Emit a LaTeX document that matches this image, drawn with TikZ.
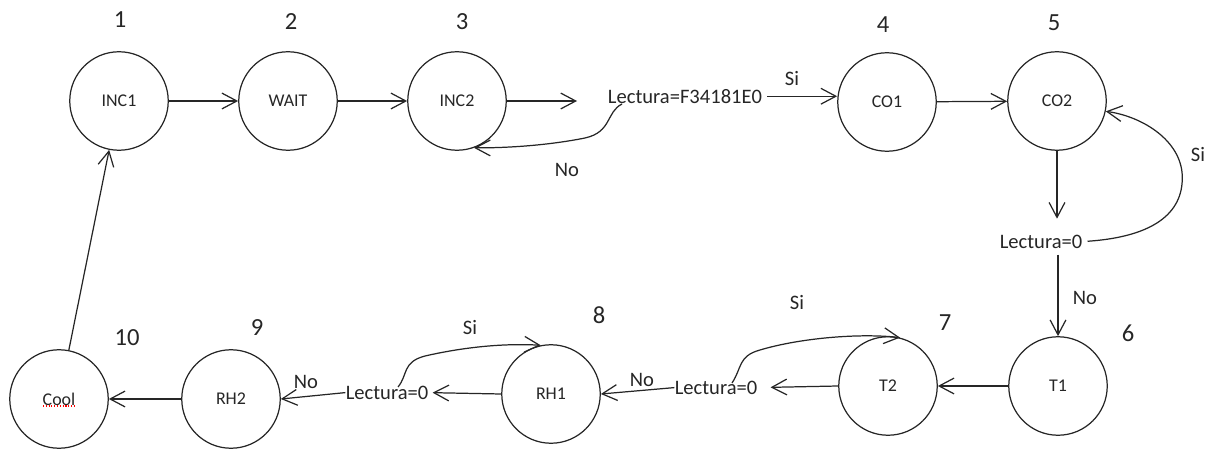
\documentclass[tikz,border=0pt]{standalone}
\usepackage{fontspec}
\setmainfont{Carlito}
\usetikzlibrary{arrows.meta}
\definecolor{ink}{HTML}{262626}
\begin{document}
\begin{tikzpicture}[x=0.02cm,y=-0.02cm,
  state/.style={circle,draw=ink,line width=0.7pt,minimum size=1.97cm,inner sep=0pt,
    font=\fontsize{10.2}{12}\selectfont,text=ink},
  num/.style={font=\fontsize{14}{16}\selectfont,text=ink,inner sep=0pt},
  lbl/.style={font=\fontsize{11.7}{14}\selectfont,text=ink,inner sep=0pt},
  cond/.style={lbl,anchor=mid},
  link/.style={draw=ink,line width=0.7pt,-{Straight Barb[length=8.5pt,width=9pt]}},
  plain/.style={draw=ink,line width=0.7pt}]
\useasboundingbox (0,0) rectangle (1213,452);

% states
\node[state] (INC1) at (119,101) {INC1};
\node[state] (WAIT) at (288,101) {WAIT};
\node[state] (INC2) at (457,101) {INC2};
\node[state] (CO1)  at (887,102) {CO1};
\node[state] (CO2)  at (1057,101) {CO2};
\node[state] (T1)   at (1058,386) {T1};
\node[state] (T2)   at (888,386) {T2};
\node[state] (RH1)  at (551,394) {RH1};
\node[state] (RH2)  at (231,399) {RH2};
\node[state] (Cool) at (59,399) {Cool};

% state numbers
\node[num] (n1)  at (120,20)  {1};
\node[num] (n2)  at (291,22)  {2};
\node[num] (n3)  at (462,22)  {3};
\node[num] (n4)  at (883,25)  {4};
\node[num] (n5)  at (1054,23) {5};
\node[num] (n6)  at (1128,333) {6};
\node[num] (n7)  at (945,323) {7};
\node[num] (n8)  at (599,315) {8};
\node[num] (n9)  at (257,328) {9};
\node[num] (n10) at (127,338) {10};

% conditions
\node[cond] (lec1) at (685,99)  {Lectura=F34181E0};
\node[cond] (lec2) at (1041,244) {Lectura=0};
\node[cond] (lec3) at (716,390) {Lectura=0};
\node[cond] (lec4) at (387,395) {Lectura=0};

% branch labels
\node[lbl] (si1) at (792,79)   {Si};
\node[lbl] (no1) at (567,170)  {No};
\node[lbl] (si2) at (1198,155) {Si};
\node[lbl] (no2) at (1085,298) {No};
\node[lbl] (si3) at (797,302)  {Si};
\node[lbl] (no3) at (642,380)  {No};
\node[lbl] (si4) at (470,327)  {Si};
\node[lbl] (no4) at (306,382)  {No};

% spell-check underline
\draw[red,densely dotted,line width=0.6pt] ([shift={(-16,7)}]Cool.center) -- ([shift={(17,7)}]Cool.center);

% free end of the INC2 exit arrow
\coordinate (inc2out) at (577,101);
\coordinate (nofrom) at (622,104);
\coordinate (si3from) at (732,383);
\coordinate (si4from) at (398,387);

% top row
\draw[link] (INC1) -- (WAIT);
\draw[link] (WAIT) -- (INC2);
\draw[link] (INC2.east) -- (inc2out);
\draw[link,shorten <=2.8pt] (lec1.east) -- (lec1.east -| CO1.west);
\draw[link] (nofrom) .. controls (606,112) and (612,132) .. (585,138)
   .. controls (550,145) and (510,148) .. (INC2.-70);
\draw[link] (CO1) -- (CO2);

% CO2 check
\draw[link,shorten >=9pt] (CO2.south) -- (CO2 |- lec2.north);
\draw[link,shorten <=3.4pt] (T1 |- lec2.south) -- (T1.north);
\draw[link,shorten <=2.8pt] (lec2.east) .. controls (1165,236) and (1185,205) .. (1182,172)
   .. controls (1178,138) and (1140,116) .. (CO2.-12);

% bottom row
\draw[link] (T1) -- (T2);
\draw[link,shorten >=7.4pt] (T2.west) -- (lec3.east);
\draw[link] (lec3.west) -- (RH1.east);
\draw[link] (si3from) .. controls (742,368) and (738,356) .. (760,350)
   .. controls (800,338) and (860,333) .. (T2.76);
\draw[link,shorten >=2.3pt] (RH1.west) -- (lec4.east);
\draw[link] (lec4.west) -- (RH2.east);
\draw[link] (si4from) .. controls (408,375) and (402,362) .. (425,356)
   .. controls (460,348) and (500,343) .. (RH1.102);
\draw[link] (RH2) -- (Cool);
\draw[link] (Cool) -- (INC1);
\end{tikzpicture}
\end{document}
